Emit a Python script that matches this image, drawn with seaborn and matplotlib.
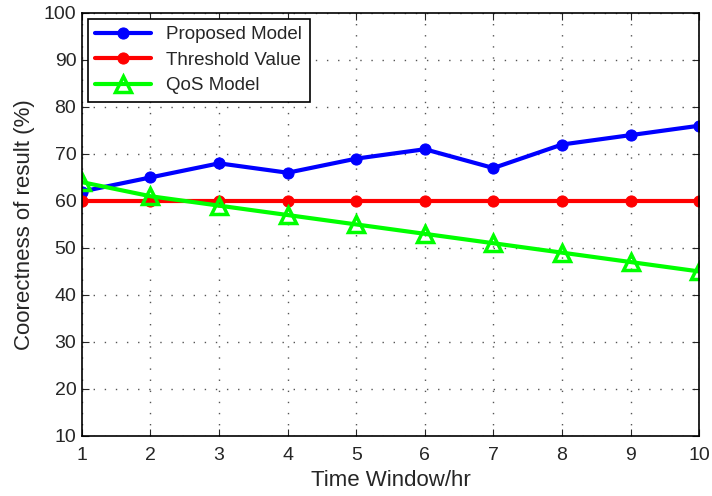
import seaborn as sns
import pandas as pd
import matplotlib.pyplot as plt

# Veriler
time_window = [1, 2, 3, 4, 5, 6, 7, 8, 9, 10]
proposed = [62, 65, 68, 66, 69, 71, 67, 72, 74, 76]
threshold = [60, 60, 60, 60, 60, 60, 60, 60, 60, 60]
qos = [64, 61, 59, 57, 55, 53, 51, 49, 47, 45]

df = pd.DataFrame({'Time': time_window, 'Proposed Model': proposed,
                   'Threshold Value': threshold, 'QoS Model': qos})

sns.set_style('ticks')
plt.rcParams['font.family'] = ['Liberation Sans', 'DejaVu Sans']

fig = plt.figure(figsize=(7.12, 4.96), dpi=100)
ax = fig.add_axes([0.115, 0.121, 0.867, 0.853])

sns.lineplot(data=df, x='Time', y='Proposed Model', color='#0000ff', marker='o',
             markersize=8, markeredgecolor='#0000ff', linewidth=3, label='Proposed Model', ax=ax)
sns.lineplot(data=df, x='Time', y='Threshold Value', color='#ff0000', marker='o',
             markersize=8, markeredgecolor='#ff0000', linewidth=3, label='Threshold Value', ax=ax)
sns.lineplot(data=df, x='Time', y='QoS Model', color='#00ff00', marker='^',
             markersize=11, markeredgecolor='#00ff00', markerfacecolor='none',
             markeredgewidth=2.5, linewidth=3, label='QoS Model', ax=ax)

ax.set_xlim(1, 10)
ax.set_ylim(10, 100)
ax.set_xticks(time_window)
ax.set_yticks(range(10, 101, 10))
ax.grid(True, linestyle=(0, (1, 7)), color='#555555', linewidth=1.0)
ax.tick_params(direction='in', top=True, right=True, labelsize=14, length=5, width=0.8, pad=4)
ax.tick_params(axis='x', pad=8)
for s in ax.spines.values():
    s.set_color('black')
    s.set_linewidth(1.2)

ax.set_xlabel('Time Window/hr', fontsize=16, labelpad=4)
ax.set_ylabel('Coorectness of result (%)', fontsize=16, labelpad=6)

leg = ax.legend(loc='upper left', fontsize=13.5, fancybox=False, framealpha=1,
                edgecolor='black', handlelength=3, borderaxespad=0.3,
                labelspacing=0.45)
leg.get_frame().set_linewidth(1.2)

plt.savefig('out.png', dpi=100)
